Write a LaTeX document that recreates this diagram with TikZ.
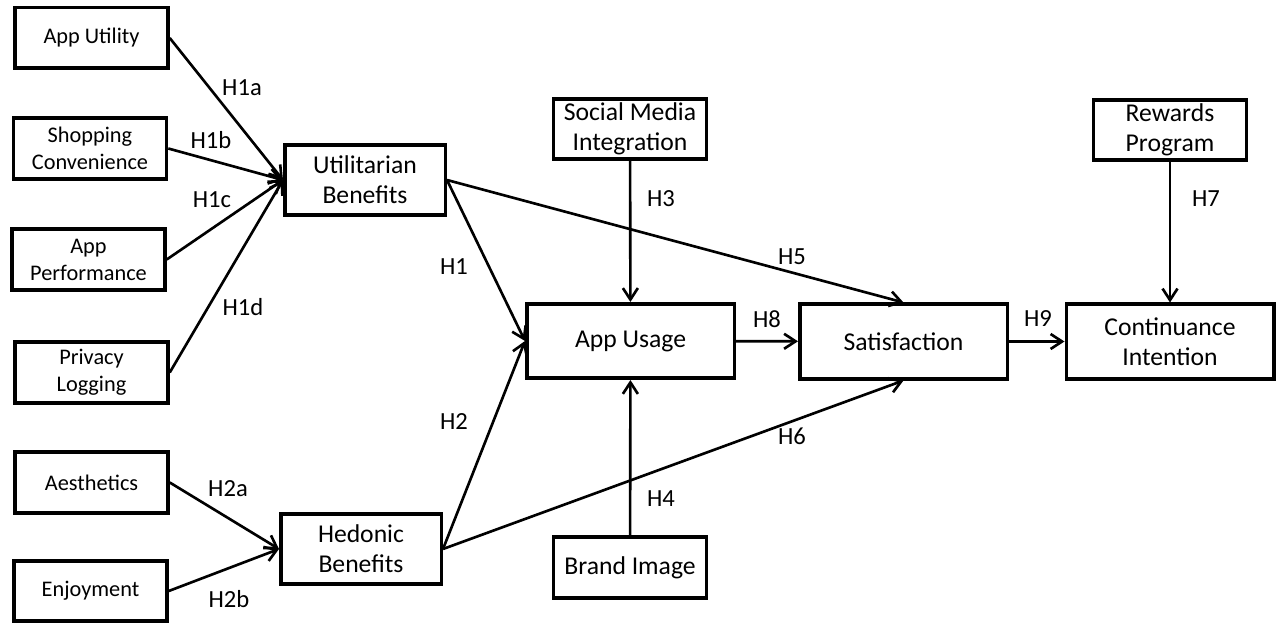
\documentclass[tikz,border=0pt]{standalone}
\usepackage{fontspec}
\setmainfont{Carlito}
\usepackage{tikz}
\usetikzlibrary{arrows.meta}
\pgfdeclarelayer{bg}
\pgfsetlayers{bg,main}

\begin{document}
\begin{tikzpicture}[
    box/.style={draw, line width=2pt, align=center, inner sep=1pt,
        font=\fontsize{14.6}{17}\selectfont},
    small/.style={box, minimum width=3.06cm, minimum height=1.21cm},
    leftbox/.style={small, font=\fontsize{12.7}{15.4}\selectfont},
    mid/.style={box, minimum width=3.21cm, minimum height=1.41cm},
    wide/.style={box, minimum width=4.15cm, minimum height=1.49cm},
    hyp/.style={font=\fontsize{14}{17}\selectfont, inner sep=0pt},
    arr/.style={draw, line width=1.5pt, -{Straight Barb[length=2.3mm, width=3mm]}}]
    \useasboundingbox (0cm, 0cm) rectangle (25.64cm, -12.48cm);

    \node (apputil) [leftbox] at (1.83cm, -0.76cm) {App Utility};
    \node (shopconv) [leftbox] at (1.80cm, -2.97cm) {Shopping\\Convenience};
    \node (appperf) [leftbox] at (1.77cm, -5.19cm) {App\\Performance};
    \node (privlog) [leftbox] at (1.83cm, -7.45cm) {Privacy\\Logging};
    \node (aesth) [leftbox] at (1.83cm, -9.65cm) {Aesthetics};
    \node (enjoy) [leftbox] at (1.81cm, -11.82cm) {Enjoyment};

    \node (util) [mid] at (7.30cm, -3.60cm) {Utilitarian\\Benefits};
    \node (hedon) [mid] at (7.22cm, -10.98cm) {Hedonic\\Benefits};

    \node (social) [small] at (12.60cm, -2.58cm) {Social Media\\Integration};
    \node (usage) [wide] at (12.61cm, -6.82cm) {App Usage};
    \node (brand) [small] at (12.60cm, -11.35cm) {Brand Image};

    \node (satis) [wide] at (18.07cm, -6.83cm) {Satisfaction};
    \node (rewards) [small] at (23.40cm, -2.60cm) {Rewards\\Program};
    \node (contin) [wide] at (23.40cm, -6.83cm) {Continuance\\Intention};

    \node (lh1a) [hyp] at (4.84cm, -1.76cm) {H1a};
    \node (lh1b) [hyp] at (4.22cm, -2.80cm) {H1b};
    \node (lh1c) [hyp] at (4.24cm, -4.00cm) {H1c};
    \node (lh1d) [hyp] at (4.86cm, -6.14cm) {H1d};
    \node (lh2a) [hyp] at (4.56cm, -9.78cm) {H2a};
    \node (lh2b) [hyp] at (4.58cm, -11.98cm) {H2b};
    \node (lh1) [hyp] at (9.08cm, -5.34cm) {H1};
    \node (lh2) [hyp] at (9.08cm, -8.44cm) {H2};
    \node (lh3) [hyp] at (13.22cm, -3.98cm) {H3};
    \node (lh4) [hyp] at (13.22cm, -9.98cm) {H4};
    \node (lh5) [hyp] at (15.84cm, -5.14cm) {H5};
    \node (lh6) [hyp] at (15.84cm, -8.72cm) {H6};
    \node (lh7) [hyp] at (24.12cm, -3.98cm) {H7};
    \node (lh8) [hyp] at (15.34cm, -6.38cm) {H8};
    \node (lh9) [hyp] at (20.76cm, -6.38cm) {H9};

    \begin{pgfonlayer}{bg}
        \path (apputil.east) edge[arr] (util.west);
        \path (shopconv.east) edge[arr] (util.west);
        \path (appperf.east) edge[arr] (util.west);
        \path (privlog.east) edge[arr] (util.west);
        \path (aesth.east) edge[arr] (hedon.west);
        \path (enjoy.east) edge[arr] (hedon.west);
        \path (util.east) edge[arr] (usage.west);
        \path (hedon.east) edge[arr] (usage.west);
        \path (util.east) edge[arr] (satis.north);
        \path (hedon.east) edge[arr] (satis.south);
        \path (social) edge[arr] (usage);
        \path (brand) edge[arr] (usage);
        \path (usage) edge[arr] (satis);
        \path (satis) edge[arr] (contin);
        \path (rewards) edge[arr] (contin);
    \end{pgfonlayer}
\end{tikzpicture}
\end{document}
